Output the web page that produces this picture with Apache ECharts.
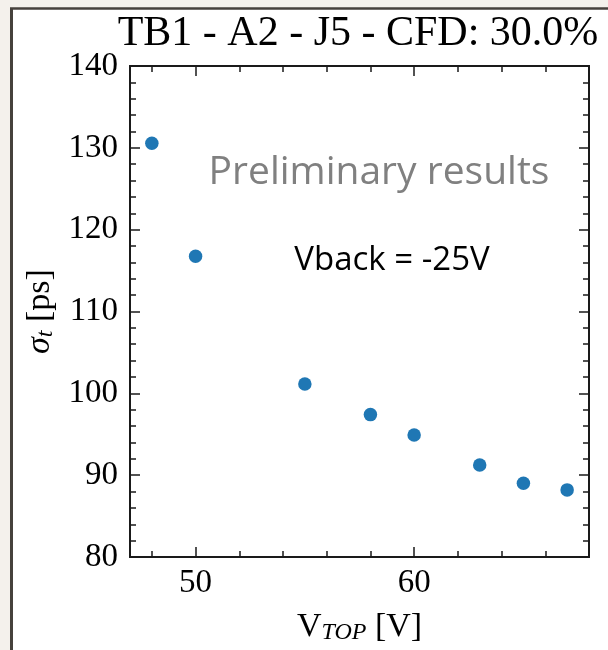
<!DOCTYPE html>
<html>
<head>
<meta charset="utf-8">
<script src="https://cdn.jsdelivr.net/npm/echarts@6/dist/echarts.min.js"></script>
<style>html,body{margin:0;padding:0;background:#f4f1ec;}#c{width:608px;height:650px;}</style>
</head>
<body>
<div id="c"></div>
<script>
// Data
const vTop = [48, 50, 55, 58, 60, 63, 65, 67];
const sigmaT = [130.55, 116.75, 101.15, 97.4, 94.9, 91.25, 89.0, 88.2];
const xMajorTicks = [50, 60];
const xMinorTicks = [48, 52, 54, 56, 58, 62, 64, 66];
const yTickValues = [80, 90, 100, 110, 120, 130, 140];
const titleText = 'TB1 - A2 - J5 - CFD: 30.0%';
const noteText = 'Preliminary results';
const vbackText = 'Vback = -25V';

const chart = echarts.init(document.getElementById('c'), null, {renderer: 'canvas'});
const serif = 'Liberation Serif';
const axisColor = '#1a1a1a';
const X_MIN = 47, X_MAX = 68, Y_MIN = yTickValues[0], Y_MAX = yTickValues[yTickValues.length - 1];

function xAxisDef(pos, ticks, len, labels) {
  return {
    type: 'value', position: pos, min: X_MIN, max: X_MAX,
    axisLine: {show: true, onZero: false, lineStyle: {color: axisColor, width: 2}},
    axisTick: {show: true, inside: true, length: len, customValues: ticks, lineStyle: {color: axisColor, width: 1.5}},
    axisLabel: labels ? {show: true, customValues: ticks, fontFamily: serif, fontSize: 33, color: '#000', margin: 10} : {show: false},
    splitLine: {show: false},
    minorTick: {show: false},
    name: labels && pos === 'bottom' ? '{v|V}{sub|TOP}{v| [V]}' : '',
    nameLocation: 'middle', nameGap: 52,
    nameTextStyle: {rich: {
      v: {fontFamily: serif, fontSize: 34, color: '#000'},
      sub: {fontFamily: serif, fontSize: 24, fontStyle: 'italic', color: '#000', verticalAlign: 'bottom', padding: [12, 0, 0, 0]}
    }}
  };
}
function yAxisDef(pos, labels) {
  return {
    type: 'value', position: pos, min: Y_MIN, max: Y_MAX, interval: 10,
    axisLine: {show: true, onZero: false, lineStyle: {color: axisColor, width: 2}},
    axisTick: {show: true, inside: true, length: 10, lineStyle: {color: axisColor, width: 1.5}},
    minorTick: {show: true, splitNumber: 5, length: 6, lineStyle: {color: axisColor, width: 1.5}},
    axisLabel: labels ? {show: true, fontFamily: serif, fontSize: 33, color: '#000', margin: 12} : {show: false},
    splitLine: {show: false},
    minorSplitLine: {show: false},
    name: labels ? '{s|σ}{sub|t}{v| [ps]}' : '',
    nameLocation: 'middle', nameGap: 72, nameRotate: 90,
    nameTextStyle: {rich: {
      s: {fontFamily: serif, fontSize: 34, fontStyle: 'italic', color: '#000'},
      sub: {fontFamily: serif, fontSize: 24, fontStyle: 'italic', color: '#000', padding: [12, 0, 0, 0]},
      v: {fontFamily: serif, fontSize: 34, color: '#000'}
    }}
  };
}

const option = {
  backgroundColor: '#f4f1ec',
  animation: false,
  grid: {left: 130, right: 19, top: 66, bottom: 93, containLabel: false},
  xAxis: [
    xAxisDef('bottom', xMajorTicks, 10, true),
    xAxisDef('bottom', xMinorTicks, 6, false),
    xAxisDef('top', xMajorTicks, 10, false),
    xAxisDef('top', xMinorTicks, 6, false)
  ],
  yAxis: [
    yAxisDef('left', true),
    yAxisDef('right', false)
  ],
  series: [{
    type: 'scatter', xAxisIndex: 0, yAxisIndex: 0,
    symbolSize: 13.5,
    itemStyle: {color: '#1f77b4', opacity: 1},
    data: vTop.map((v, i) => [v, sigmaT[i]]),
    z: 5
  }],
  graphic: [
    {type: 'rect', z: -100, silent: true, shape: {x: 12, y: 9, width: 620, height: 660}, style: {fill: '#ffffff'}},
    {type: 'line', z: -99, silent: true, shape: {x1: 11.5, y1: 8.5, x2: 11.5, y2: 650}, style: {stroke: '#46413c', lineWidth: 3}},
    {type: 'line', z: -99, silent: true, shape: {x1: 10, y1: 8.5, x2: 608, y2: 8.5}, style: {stroke: '#46413c', lineWidth: 2.5}},
    {type: 'text', z: 10, silent: true, style: {text: titleText, x: 358, y: 34, align: 'center', verticalAlign: 'middle', fontFamily: serif, fontSize: 42, fill: '#000'}},
    {type: 'text', z: 10, silent: true, style: {text: noteText, x: 379, y: 173, align: 'center', verticalAlign: 'middle', fontFamily: 'Open Sans', fontSize: 39, fill: '#808080'}},
    {type: 'text', z: 10, silent: true, style: {text: vbackText, x: 392, y: 261, align: 'center', verticalAlign: 'middle', fontFamily: 'Open Sans', fontSize: 33, fill: '#000'}}
  ]
};
chart.setOption(option);
</script>
</body>
</html>
